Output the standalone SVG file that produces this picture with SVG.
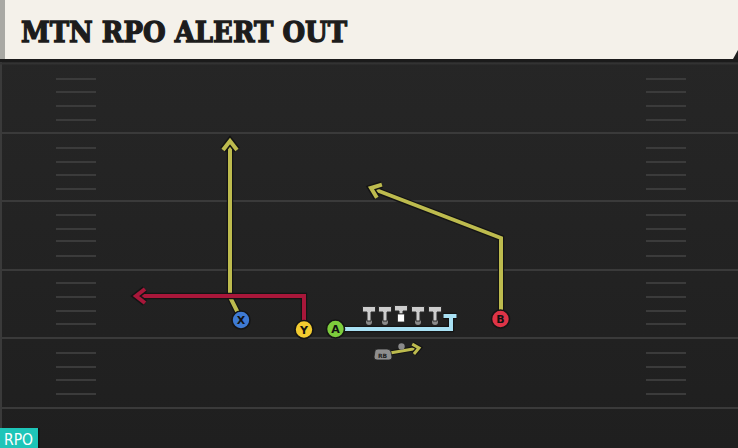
<svg xmlns="http://www.w3.org/2000/svg" width="738" height="448" viewBox="0 0 738 448">
<defs>
<style>
.yard{stroke:#3a3a3a;stroke-width:2}
.hash{stroke:#3b3b3b;stroke-width:2}
.under{fill:none;stroke:#141414;stroke-width:6.4;stroke-linejoin:miter;stroke-linecap:butt}
.olive{fill:none;stroke:#BDBB4E;stroke-width:4;stroke-linejoin:miter}
.red{fill:none;stroke:#A8173A;stroke-width:4;stroke-linejoin:miter}
.blue{fill:none;stroke:#A9E1F4;stroke-width:4}
.pl{stroke:#151515;stroke-width:1.6}
.plt{font-family:"DejaVu Sans",sans-serif;font-weight:bold;font-size:11px;fill:#111;text-anchor:middle}
.ol{fill:#CDCDCD;stroke:#2a2a2a;stroke-width:1}
.dot{fill:#8a8a8a}
</style>
<marker id="ao" markerUnits="userSpaceOnUse" markerWidth="24" markerHeight="24" refX="0" refY="0" viewBox="-14 -12 20 24" orient="auto" overflow="visible">
<path d="M-9,-7 L0,0 L-9,7" fill="none" stroke="#141414" stroke-width="7" stroke-linejoin="miter" stroke-miterlimit="10"/>
<path d="M-9,-7 L0,0 L-9,7" fill="none" stroke="#BDBB4E" stroke-width="4" stroke-linejoin="miter" stroke-miterlimit="10"/>
</marker>
<marker id="ar" markerUnits="userSpaceOnUse" markerWidth="24" markerHeight="24" refX="0" refY="0" viewBox="-14 -12 20 24" orient="auto" overflow="visible">
<path d="M-9,-7 L0,0 L-9,7" fill="none" stroke="#141414" stroke-width="7" stroke-linejoin="miter" stroke-miterlimit="10"/>
<path d="M-9,-7 L0,0 L-9,7" fill="none" stroke="#A8173A" stroke-width="4" stroke-linejoin="miter" stroke-miterlimit="10"/>
</marker>
<marker id="aos" markerUnits="userSpaceOnUse" markerWidth="20" markerHeight="20" refX="0" refY="0" viewBox="-10 -10 20 20" orient="auto" overflow="visible">
<path d="M-6,-5 L0,0 L-6,5" fill="none" stroke="#141414" stroke-width="5.4" stroke-miterlimit="10"/>
<path d="M-6,-5 L0,0 L-6,5" fill="none" stroke="#BDBB4E" stroke-width="3" stroke-miterlimit="10"/>
</marker>
<linearGradient id="fg" x1="0" y1="0" x2="0" y2="1">
<stop offset="0" stop-color="#272727"/>
<stop offset="1" stop-color="#1f1f1f"/>
</linearGradient>
</defs>

<!-- field -->
<g id="field">
<rect x="0" y="0" width="738" height="448" fill="url(#fg)"/>
<rect x="0" y="62" width="2" height="386" fill="#3a3a3a"/>
<line x1="0" y1="63.5" x2="738" y2="63.5" stroke="#333" stroke-width="2"/>
<line class="yard" x1="0" y1="133" x2="738" y2="133"/>
<line class="yard" x1="0" y1="201" x2="738" y2="201"/>
<line class="yard" x1="0" y1="270" x2="738" y2="270"/>
<line class="yard" x1="0" y1="338" x2="738" y2="338"/>
<line class="yard" x1="0" y1="408" x2="738" y2="408"/>
<g id="hashes-left">
<line class="hash" x1="56" y1="79" x2="96" y2="79"/><line class="hash" x1="56" y1="92" x2="96" y2="92"/><line class="hash" x1="56" y1="106" x2="96" y2="106"/><line class="hash" x1="56" y1="120" x2="96" y2="120"/>
<line class="hash" x1="56" y1="148" x2="96" y2="148"/><line class="hash" x1="56" y1="162" x2="96" y2="162"/><line class="hash" x1="56" y1="175" x2="96" y2="175"/><line class="hash" x1="56" y1="189" x2="96" y2="189"/>
<line class="hash" x1="56" y1="215" x2="96" y2="215"/><line class="hash" x1="56" y1="229" x2="96" y2="229"/><line class="hash" x1="56" y1="241" x2="96" y2="241"/><line class="hash" x1="56" y1="256" x2="96" y2="256"/>
<line class="hash" x1="56" y1="283" x2="96" y2="283"/><line class="hash" x1="56" y1="297" x2="96" y2="297"/><line class="hash" x1="56" y1="311" x2="96" y2="311"/><line class="hash" x1="56" y1="324" x2="96" y2="324"/>
<line class="hash" x1="56" y1="353" x2="96" y2="353"/><line class="hash" x1="56" y1="367" x2="96" y2="367"/><line class="hash" x1="56" y1="380" x2="96" y2="380"/><line class="hash" x1="56" y1="394" x2="96" y2="394"/>
</g>
<g id="hashes-right">
<line class="hash" x1="646" y1="79" x2="686" y2="79"/><line class="hash" x1="646" y1="92" x2="686" y2="92"/><line class="hash" x1="646" y1="106" x2="686" y2="106"/><line class="hash" x1="646" y1="120" x2="686" y2="120"/>
<line class="hash" x1="646" y1="148" x2="686" y2="148"/><line class="hash" x1="646" y1="162" x2="686" y2="162"/><line class="hash" x1="646" y1="175" x2="686" y2="175"/><line class="hash" x1="646" y1="189" x2="686" y2="189"/>
<line class="hash" x1="646" y1="215" x2="686" y2="215"/><line class="hash" x1="646" y1="229" x2="686" y2="229"/><line class="hash" x1="646" y1="241" x2="686" y2="241"/><line class="hash" x1="646" y1="256" x2="686" y2="256"/>
<line class="hash" x1="646" y1="283" x2="686" y2="283"/><line class="hash" x1="646" y1="297" x2="686" y2="297"/><line class="hash" x1="646" y1="311" x2="686" y2="311"/><line class="hash" x1="646" y1="324" x2="686" y2="324"/>
<line class="hash" x1="646" y1="353" x2="686" y2="353"/><line class="hash" x1="646" y1="367" x2="686" y2="367"/><line class="hash" x1="646" y1="380" x2="686" y2="380"/><line class="hash" x1="646" y1="394" x2="686" y2="394"/>
</g>
</g>

<!-- header -->
<g id="header">
<rect x="0" y="0" width="738" height="59" fill="#F4F1EA"/>
<rect x="0" y="0" width="5" height="59" fill="#A9A9A4"/>
<path d="M733,59 L738,50 L738,59 Z" fill="#1e1e1e"/>
<rect x="0" y="59" width="738" height="3" fill="#1b1b1b"/>
<text x="21" y="42" font-family="'DejaVu Serif',serif" font-weight="bold" font-size="27.5" textLength="326" lengthAdjust="spacingAndGlyphs" fill="#1c1c1c" stroke="#1c1c1c" stroke-width="1.3" stroke-linejoin="miter">MTN RPO ALERT OUT</text>
</g>

<!-- connectors -->
<g id="connectors">
<polyline class="under" points="238,313 230,297 230,143"/>
<polyline class="olive" points="238,313 230,297 230,141" marker-end="url(#ao)"/>
<polyline class="under" points="304,321 304,296 138,296"/>
<polyline class="red" points="304,321 304,296 136,296" marker-end="url(#ar)"/>
<polyline class="under" points="501,310 501,238 373,189"/>
<polyline class="olive" points="501,310 501,238 371,188" marker-end="url(#ao)"/>
<polyline class="under" points="344,329 451,329 451,316"/>
<polyline class="under" points="443,316 457,316"/>
<polyline class="blue" points="344,329 451,329 451,316"/>
<line class="blue" x1="443.5" y1="316" x2="456.5" y2="316"/>
<line class="under" x1="390" y1="353" x2="418" y2="348" style="stroke-width:5"/>
<line x1="390" y1="353" x2="419" y2="348" stroke="#BDBB4E" stroke-width="3" marker-end="url(#aos)"/>
</g>

<!-- offensive line -->
<g id="line">
<g id="ol1"><circle class="dot" cx="369" cy="322" r="3"/><path class="ol" d="M362.5,306.5 h13 v5.5 h-4.5 v9 h-4 v-9 h-4.5 z"/></g>
<g id="ol2"><circle class="dot" cx="385" cy="322" r="3"/><path class="ol" d="M378.5,306.5 h13 v5.5 h-4.5 v9 h-4 v-9 h-4.5 z"/></g>
<g id="center"><path class="ol" d="M394.5,305.5 h13 v5.5 h-4.5 v3 h-4 v-3 h-4.5 z"/><rect x="397.5" y="314" width="7" height="8" fill="#ffffff" stroke="#2a2a2a" stroke-width="0.8"/></g>
<g id="ol4"><circle class="dot" cx="418" cy="322" r="3"/><path class="ol" d="M411.5,306.5 h13 v5.5 h-4.5 v9 h-4 v-9 h-4.5 z"/></g>
<g id="ol5"><circle class="dot" cx="435" cy="322" r="3"/><path class="ol" d="M428.5,306.5 h13 v5.5 h-4.5 v9 h-4 v-9 h-4.5 z"/></g>
</g>

<!-- RB -->
<g id="RB">
<circle class="dot" cx="401.5" cy="346.5" r="3.2"/>
<path d="M375,351 Q375,349 378,349 L387,349 Q390,349 391,352 L392,357 Q392,360 389,360 L377,360 Q374,360 374,357 Z" fill="#8e8e8e" stroke="#222" stroke-width="0.8"/>
<text x="382.5" y="357.6" font-family="'DejaVu Sans',sans-serif" font-weight="bold" font-size="6" fill="#222" text-anchor="middle">RB</text>
</g>

<!-- players -->
<g id="X"><circle class="pl" cx="241" cy="320" r="9" fill="#3E7AD3"/><text class="plt" x="241" y="324">X</text></g>
<g id="Y"><circle class="pl" cx="304" cy="329.5" r="9" fill="#F2CB30"/><text class="plt" x="304" y="333.5">Y</text></g>
<g id="A"><circle class="pl" cx="335.5" cy="329" r="9" fill="#7DCC3C"/><text class="plt" x="335.5" y="333">A</text></g>
<g id="B"><circle class="pl" cx="500.5" cy="319" r="9" fill="#DE3447"/><text class="plt" x="500.5" y="323">B</text></g>

<!-- tag -->
<g id="tag">
<rect x="0" y="428" width="38" height="20" fill="#1EC5B8"/>
<rect x="38" y="428" width="1.5" height="20" fill="#111"/>
<text x="4" y="445" font-family="'DejaVu Sans',sans-serif" font-size="15" fill="#ffffff" textLength="29" lengthAdjust="spacingAndGlyphs">RPO</text>
</g>
</svg>
